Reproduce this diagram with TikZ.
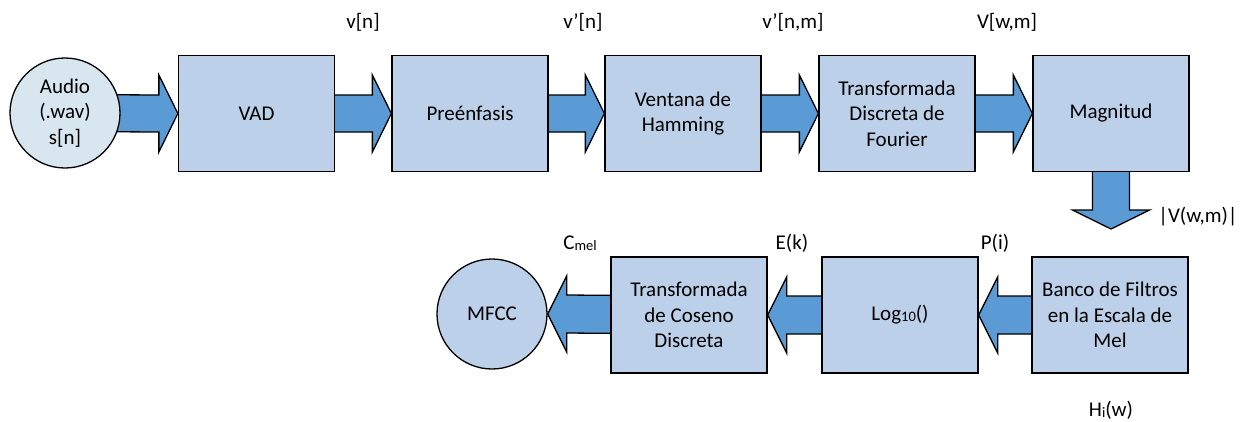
\documentclass[tikz,border=0pt]{standalone}
\usepackage{fontspec}
\setmainfont{Carlito}
\usetikzlibrary{calc,backgrounds}
\definecolor{boxfill}{HTML}{BDD0E9}
\definecolor{srcfill}{HTML}{D8E6EF}
\definecolor{arrfill}{HTML}{5B9BD5}
\newcommand{\smallsub}[1]{\raisebox{-1pt}{\fontsize{14.5}{14.5}\selectfont #1}}
\begin{document}
\begin{tikzpicture}[x=1pt,y=-1pt,
  every node/.style={font=\fontsize{21}{25.5}\selectfont},
  blk/.style={draw=black,line width=1.3pt,fill=boxfill,minimum width=156pt,minimum height=116pt,inner sep=0pt,align=center},
  circ/.style={draw=black,line width=1.3pt,circle,minimum size=110pt,inner sep=0pt,align=center},
  lbl/.style={inner sep=0pt},
  barrow/.style={draw=black,line width=1.3pt,fill=arrfill,line join=miter}]
\useasboundingbox (0,0) rectangle (1245,421);
% top row
\node[circ,fill=srcfill] (audio) at (65,113) {Audio\\(.wav)\\s[n]};
\node[blk] (vad) at (256.5,113.5) {VAD};
\node[blk] (pre) at (470,113.5) {Preénfasis};
\node[blk] (ham) at (683,113.5) {Ventana de\\Hamming};
\node[blk] (dft) at (897,113.5) {Transformada\\Discreta de\\Fourier};
\node[blk] (mag) at (1111,113.5) {Magnitud};
% bottom row
\node[blk] (banco) at (1110,315) {Banco de Filtros\\en la Escala de\\Mel};
\node[blk] (log) at (900,315) {Log\smallsub{10}()};
\node[blk] (dct) at (689,315) {Transformada\\de Coseno\\Discreta};
\node[circ,fill=boxfill] (mfcc) at (492,314) {MFCC};
\coordinate (magtip) at (1111,229);
% labels
\node[lbl] (l1) at (363,22) {v[n]};
\node[lbl] (l2) at (583,22) {v’[n]};
\node[lbl] (l3) at (793,22) {v’[n,m]};
\node[lbl] (l4) at (1007,22) {V[w,m]};
\node[lbl] (l5) at (1198,217) {|V(w,m)|};
\node[lbl] (l6) at (995,243) {P(i)};
\node[lbl] (l7) at (792,243) {E(k)};
\node[lbl] (l8) at (580,243) {C\smallsub{mel}};
\node[lbl] (l9) at (1111,410) {H\smallsub{i}(w)};
% block arrows
\begin{scope}[on background layer]
\foreach \a/\b in {audio/vad,vad/pre,pre/ham,ham/dft,dft/mag}{
  \draw[barrow] ($(\a.center)+(0,-18.5)$) -- ($(\b.west)+(-19,-18.5)$) -- ($(\b.west)+(-19,-38.5)$)
    -- (\b.west) -- ($(\b.west)+(-19,38.5)$) -- ($(\b.west)+(-19,18.5)$) -- ($(\a.center)+(0,18.5)$) -- cycle;
}
\foreach \a/\b in {banco/log,log/dct,dct/mfcc}{
  \draw[barrow] ($(\a.center)+(0,-19)$) -- ($(\b.east)+(19,-19)$) -- ($(\b.east)+(19,-38)$)
    -- (\b.east) -- ($(\b.east)+(19,38)$) -- ($(\b.east)+(19,19)$) -- ($(\a.center)+(0,19)$) -- cycle;
}
\draw[barrow] ($(mag.center)+(-18.5,0)$) -- ($(magtip)+(-18.5,-19)$) -- ($(magtip)+(-38.5,-19)$)
  -- (magtip) -- ($(magtip)+(38.5,-19)$) -- ($(magtip)+(18.5,-19)$) -- ($(mag.center)+(18.5,0)$) -- cycle;
\end{scope}
\end{tikzpicture}
\end{document}
